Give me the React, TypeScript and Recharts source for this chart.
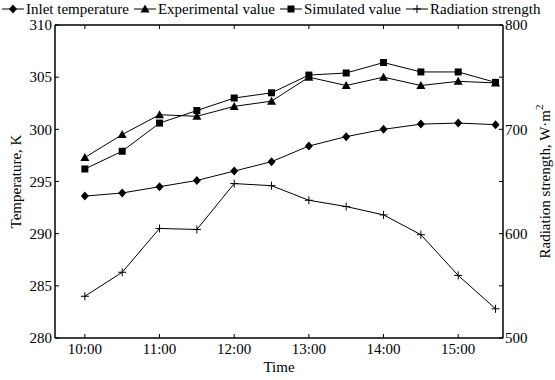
import React from 'react';
import { LineChart, Line, XAxis, YAxis, Label } from 'recharts';

const hours = [10, 10.5, 11, 11.5, 12, 12.5, 13, 13.5, 14, 14.5, 15, 15.5];
const inletTemp = [293.6, 293.9, 294.5, 295.1, 296.0, 296.9, 298.4, 299.3, 300.0, 300.5, 300.6, 300.45];
const experimental = [297.3, 299.5, 301.4, 301.25, 302.2, 302.7, 305.0, 304.2, 305.0, 304.2, 304.6, 304.45];
const simulated = [296.2, 297.9, 300.6, 301.8, 303.0, 303.5, 305.2, 305.4, 306.4, 305.5, 305.5, 304.5];
const radiation = [540, 563, 605, 604, 648, 646, 632, 626, 618, 599, 560, 528];

const xTicks = [10, 11, 12, 13, 14, 15];
const tempTicks = [280, 285, 290, 295, 300, 305, 310];
const radTicks = [500, 550, 600, 650, 700, 750, 800];

const data = hours.map((h, i) => ({
  h,
  inlet: inletTemp[i],
  exp: experimental[i],
  sim: simulated[i],
  rad: radiation[i],
}));

const FONT = '"Liberation Serif", "Times New Roman", serif';

const Diamond = ({ cx, cy }: any) => (
  <path d={`M${cx},${cy - 4.5}L${cx + 4},${cy}L${cx},${cy + 4.5}L${cx - 4},${cy}Z`} fill="#000" />
);
const Triangle = ({ cx, cy }: any) => (
  <path d={`M${cx},${cy - 4.5}L${cx + 4.5},${cy + 3.5}L${cx - 4.5},${cy + 3.5}Z`} fill="#000" />
);
const Square = ({ cx, cy }: any) => <rect x={cx - 3.5} y={cy - 3.5} width={7} height={7} fill="#000" />;
const Plus = ({ cx, cy }: any) => (
  <path d={`M${cx - 4},${cy}H${cx + 4}M${cx},${cy - 4}V${cy + 4}`} stroke="#000" strokeWidth={1} fill="none" />
);

const dotOf = (Shape: React.FC<any>) => (p: any) => <Shape key={`d${p.index}`} cx={p.cx} cy={p.cy} />;

const legendItems = [
  { name: 'Inlet temperature', Shape: Diamond },
  { name: 'Experimental value', Shape: Triangle },
  { name: 'Simulated value', Shape: Square },
  { name: 'Radiation strength', Shape: Plus },
];

const LeftTick = ({ x, y, payload }: any) => (
  <text x={x} y={y} dy="0.35em" textAnchor="end" fontSize={15} fontFamily={FONT} fill="#000">
    {payload.value}
  </text>
);

const BottomTick = ({ x, y, payload }: any) => (
  <text x={x} y={y} dy="0.8em" textAnchor="middle" fontSize={15} fontFamily={FONT} fill="#000">
    {`${payload.value}:00`}
  </text>
);

const RightTick = ({ x, y, payload }: any) =>
  payload.value % 100 === 0 ? (
    <text x={x} y={y} dy="0.35em" textAnchor="start" fontSize={15} fontFamily={FONT} fill="#000">
      {payload.value}
    </text>
  ) : (
    <g />
  );

const axisLine = { stroke: '#000', strokeWidth: 1.5 };

export default function App() {
  return (
    <div style={{ position: 'absolute', left: 0, top: 0, width: 555, height: 380, background: '#fff', fontFamily: FONT }}>
      <div
        style={{
          position: 'absolute',
          top: 0,
          left: 2,
          display: 'flex',
          alignItems: 'center',
          gap: 5,
          fontSize: 15,
          lineHeight: '18px',
          color: '#000',
          whiteSpace: 'nowrap',
          fontFamily: FONT,
        }}
      >
        {legendItems.map(({ name, Shape }) => (
          <div key={name} style={{ display: 'flex', alignItems: 'center', gap: 2 }}>
            <svg width={22} height={12}>
              <line x1={0} y1={6} x2={22} y2={6} stroke="#000" strokeWidth={1} />
              <Shape cx={11} cy={6} />
            </svg>
            <span>{name}</span>
          </div>
        ))}
      </div>
      <LineChart
        width={555}
        height={380}
        data={data}
        margin={{ top: 0, right: 0, bottom: 0, left: 0 }}
        style={{ fontFamily: FONT }}
      >
        <XAxis
          xAxisId="b"
          dataKey="h"
          type="number"
          domain={[9.6, 15.6]}
          ticks={xTicks}
          height={42}
          tickSize={-4}
          tickMargin={8}
          tick={<BottomTick />}
          axisLine={axisLine}
          tickLine={{ stroke: '#000' }}
        >
          <Label
            content={({ viewBox }: any) => (
              <text x={viewBox.x + viewBox.width / 2} y={372} textAnchor="middle" fontSize={15} fontFamily={FONT} fill="#000">
                Time
              </text>
            )}
          />
        </XAxis>
        <XAxis
          xAxisId="t"
          dataKey="h"
          type="number"
          orientation="top"
          domain={[9.6, 15.6]}
          ticks={xTicks}
          height={25}
          tickSize={-4}
          tick={() => <g />}
          axisLine={axisLine}
          tickLine={{ stroke: '#000' }}
        />
        <YAxis
          yAxisId="l"
          domain={[280, 310]}
          ticks={tempTicks}
          width={55}
          tickSize={-4}
          tickMargin={7}
          tick={<LeftTick />}
          axisLine={axisLine}
          tickLine={{ stroke: '#000' }}
        >
          <Label
            content={({ viewBox }: any) => {
              const cy = viewBox.y + viewBox.height / 2;
              return (
                <text x={21} y={cy} transform={`rotate(-90, 21, ${cy})`} textAnchor="middle" fontSize={15} fontFamily={FONT} fill="#000">
                  Temperature, K
                </text>
              );
            }}
          />
        </YAxis>
        <YAxis
          yAxisId="r"
          orientation="right"
          domain={[500, 800]}
          ticks={radTicks}
          width={52}
          tickSize={-4}
          tickMargin={6}
          tick={<RightTick />}
          axisLine={axisLine}
          tickLine={{ stroke: '#000' }}
        >
          <Label
            content={({ viewBox }: any) => {
              const cy = viewBox.y + viewBox.height / 2;
              const x = 550;
              return (
                <text x={x} y={cy} transform={`rotate(-90, ${x}, ${cy})`} textAnchor="middle" fontSize={15} fontFamily={FONT} fill="#000">
                  Radiation strength, W·m
                  <tspan fontSize={11} dy={-7}>2</tspan>
                </text>
              );
            }}
          />
        </YAxis>
        <Line xAxisId="b" yAxisId="l" dataKey="inlet" stroke="#000" strokeWidth={1} dot={dotOf(Diamond)} isAnimationActive={false} />
        <Line xAxisId="b" yAxisId="l" dataKey="exp" stroke="#000" strokeWidth={1} dot={dotOf(Triangle)} isAnimationActive={false} />
        <Line xAxisId="b" yAxisId="l" dataKey="sim" stroke="#000" strokeWidth={1} dot={dotOf(Square)} isAnimationActive={false} />
        <Line xAxisId="b" yAxisId="r" dataKey="rad" stroke="#000" strokeWidth={1} dot={dotOf(Plus)} isAnimationActive={false} />
      </LineChart>
    </div>
  );
}
